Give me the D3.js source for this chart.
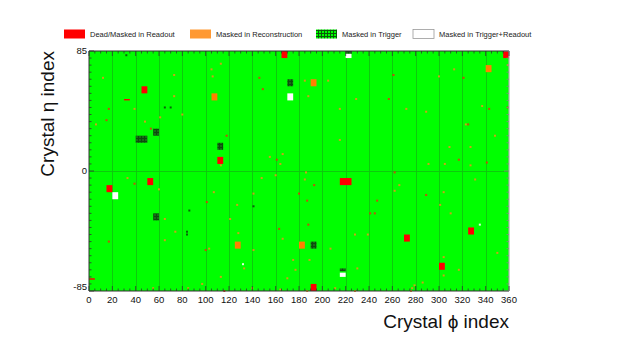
<!DOCTYPE html>
<html>
<head>
<meta charset="utf-8">
<script src="https://cdn.jsdelivr.net/npm/d3@7/dist/d3.min.js"></script>
<style>
  body { margin: 0; background: #fff; }
  svg { font-family: "Liberation Sans", Arial, sans-serif; }
</style>
</head>
<body>
<div id="chart"></div>
<script>
// legend entries
const legendLabels = ["Dead/Masked in Readout", "Masked in Reconstruction", "Masked in Trigger", "Masked in Trigger+Readout"];

// regions: [phiMin, phiMax, etaMin, etaMax]
const deadRegions = [
    [165, 170, 80, 85], [355, 360, 80, 85], [45, 50, 55, 60], [110, 115, 5, 10],
    [30, 35, 50, 51], [15, 20, -15, -10], [50, 55, -10, -5], [215, 225, -10, -5],
    [190, 195, -85, -80], [270, 275, -50, -45], [300, 305, -70, -65], [325, 330, -45, -40],
    [0, 5, -77, -76]
];
const recoRegions = [
    [105, 110, 50, 55], [190, 195, 60, 65], [340, 345, 70, 75],
    [125, 130, -55, -50], [180, 185, -55, -50]
];
const triggerRegions = [
    [170, 175, 60, 65], [40, 50, 20, 25], [55, 60, 25, 30], [110, 115, 15, 20],
    [55, 60, -35, -30], [190, 195, -55, -50], [220, 225, 83, 85], [215, 220, -71, -69]
];
const trigReadoutRegions = [
    [170, 175, 50, 55], [20, 25, -20, -15], [220, 225, 80, 83], [215, 220, -75, -72]
];

// single crystals: [phi, eta]
const deadCrystals = [
    [17, 44], [15, 36], [53, 30], [118, 25], [146, 66], [149, 58], [161, 8], [261, 68],
    [257, 51], [321, 66], [343, 44], [359, 45], [325, 33], [317, 8], [341, 6], [39, -9],
    [17, -50], [101, -22], [100, -56], [163, -41], [116, -85], [180, -16], [193, -10],
    [187, -21], [188, -38], [262, -1], [247, -21], [241, -30], [245, -30], [289, -17]
];
const recoCrystals = [
    [12, 66], [6, 33], [39, 44], [48, 35], [61, 38], [73, 68], [73, 53], [80, 40],
    [105, 72], [113, 76], [106, 67], [113, 4], [155, 10], [166, 12], [164, 5], [185, 64],
    [205, 64], [188, 53], [229, 51], [215, 44], [215, 22], [272, 44], [289, 42], [300, 67],
    [313, 72], [337, 46], [359, 75], [323, 33], [348, 25], [309, 17], [327, 17], [291, 5],
    [305, 5], [327, 4], [33, -5], [60, -13], [65, -34], [65, -49], [74, -43], [107, -15],
    [121, -34], [127, -24], [128, -44], [103, -55], [113, -75], [97, -80], [133, -69],
    [141, -56], [148, -5], [160, -3], [166, -48], [175, -63], [177, -70], [170, -76],
    [55, -83], [85, -83], [140, -83], [164, -84], [186, -1], [185, -6], [189, -63],
    [266, -10], [262, -14], [239, -45], [304, -15], [301, -24], [310, -30], [331, -6],
    [350, -58], [304, -61], [317, -70], [304, -74], [286, -79], [279, -81], [277, -83],
    [276, -85], [207, -55], [230, -69], [211, -83], [228, -85], [228, -45], [187, -85],
    [141, -16]
];
const triggerCrystals = [
    [32, 82], [65, 45], [70, 45], [84, -43], [84, -45], [86, -28], [141, -25]
];
const trigReadoutCrystals = [[132, -66], [335, -38]];

// axes
const phiTicks = d3.range(0, 361, 20);
const etaTicks = [-85, 0, 85];

const width = 624, height = 343;
const svg = d3.select("#chart").append("svg")
    .attr("width", width).attr("height", height);

const x = d3.scaleLinear().domain([0, 360]).range([89, 509]);
const y = d3.scaleLinear().domain([-85, 85]).range([291, 51]);

const defs = svg.append("defs");
function gridPattern(id, bg, line) {
    const p = defs.append("pattern").attr("id", id)
        .attr("patternUnits", "userSpaceOnUse").attr("width", 3).attr("height", 3);
    p.append("rect").attr("width", 3).attr("height", 3).attr("fill", bg);
    p.append("path").attr("d", "M0,0.5H3M0.5,0V3").attr("stroke", line).attr("stroke-width", 1);
}
gridPattern("trigPlot", "#176c17", "#0e4a0e");
gridPattern("trigLegend", "#00ff00", "#0a5a0a");

// plot background
svg.append("rect")
    .attr("x", x(0)).attr("y", y(85))
    .attr("width", x(360) - x(0)).attr("height", y(-85) - y(85))
    .attr("fill", "#00ff00");

// supermodule boundaries
const grid = svg.append("g").attr("stroke", "#0fc40f").attr("stroke-width", 0.9);
grid.selectAll("line.v").data(d3.range(20, 360, 20)).join("line")
    .attr("x1", d => Math.round(x(d)) + 0.5).attr("x2", d => Math.round(x(d)) + 0.5)
    .attr("y1", y(85)).attr("y2", y(-85));
grid.append("line")
    .attr("x1", x(0)).attr("x2", x(360))
    .attr("y1", Math.round(y(0)) + 0.5).attr("y2", Math.round(y(0)) + 0.5);

const layers = [
    { regions: recoRegions, crystals: recoCrystals, fill: "#ff8000", dot: "#f0901a" },
    { regions: deadRegions, crystals: deadCrystals, fill: "#ff0000", dot: "#e8300a" },
    { regions: triggerRegions, crystals: triggerCrystals, fill: "url(#trigPlot)", dot: "#0a4a0a" },
    { regions: trigReadoutRegions, crystals: trigReadoutCrystals, fill: "#ffffff", dot: "#ffffff" }
];

// single crystals are drawn at least 2px so they stay visible at this size
const dotW = Math.max(x(1) - x(0), 2), dotH = Math.max(y(0) - y(1), 2);

layers.forEach(l => {
    const g = svg.append("g");
    g.selectAll("rect.r").data(l.regions).join("rect")
        .attr("x", d => x(d[0])).attr("width", d => x(d[1]) - x(d[0]))
        .attr("y", d => y(d[3])).attr("height", d => y(d[2]) - y(d[3]))
        .attr("fill", l.fill);
    g.selectAll("rect.c").data(l.crystals).join("rect")
        .attr("x", d => x(d[0]) - dotW / 2).attr("width", dotW)
        .attr("y", d => y(d[1]) - dotH / 2).attr("height", dotH)
        .attr("fill", l.dot).attr("opacity", 0.85);
});

// frame
const frame = svg.append("g").attr("fill", "none");
frame.append("path")
    .attr("d", `M${x(360)},${y(85)}H${x(0)}V${y(-85)}H${x(360)}`)
    .attr("stroke", "#333").attr("stroke-width", 1);
frame.append("line")
    .attr("x1", x(360)).attr("x2", x(360)).attr("y1", y(85)).attr("y2", y(-85))
    .attr("stroke", "#aaa").attr("stroke-width", 1.2);

// ticks (inside the frame, ROOT style)
const ticks = svg.append("g").attr("stroke", "#333").attr("stroke-width", 0.8);
d3.range(0, 361, 5).forEach(p => {
    const len = p % 20 === 0 ? 5 : 2.5;
    ticks.append("line").attr("x1", x(p)).attr("x2", x(p))
        .attr("y1", y(-85)).attr("y2", y(-85) - len);
    ticks.append("line").attr("x1", x(p)).attr("x2", x(p))
        .attr("y1", y(85)).attr("y2", y(85) + len);
});
d3.range(-85, 86, 5).forEach(e => {
    const len = etaTicks.includes(e) ? 5 : 2.5;
    ticks.append("line").attr("x1", x(0)).attr("x2", x(0) + len)
        .attr("y1", y(e)).attr("y2", y(e));
    ticks.append("line").attr("x1", x(360)).attr("x2", x(360) - len)
        .attr("y1", y(e)).attr("y2", y(e)).attr("stroke", "#888");
});

// tick labels
svg.append("g").selectAll("text").data(phiTicks).join("text")
    .attr("x", d => x(d)).attr("y", 303)
    .attr("text-anchor", "middle").attr("font-size", 9.5).attr("fill", "#111")
    .text(d => d);
svg.append("g").selectAll("text").data(etaTicks).join("text")
    .attr("x", 87).attr("y", d => y(d) + (d === -85 ? -1 : 3))
    .attr("text-anchor", "end").attr("font-size", 9.5).attr("fill", "#111")
    .text(d => d);

// axis titles
svg.append("text")
    .attr("x", 509).attr("y", 328)
    .attr("text-anchor", "end").attr("font-size", 19).attr("fill", "#111")
    .text("Crystal \u03D5 index");
svg.append("text")
    .attr("transform", "translate(54,51) rotate(-90)")
    .attr("text-anchor", "end").attr("font-size", 19).attr("fill", "#111")
    .text("Crystal \u03B7 index");

// legend
const legendFills = ["#ff0000", "#ff9933", "url(#trigLegend)", "#ffffff"];
const legendX = [64, 190, 316, 413];
const leg = svg.append("g");
legendLabels.forEach((t, i) => {
    leg.append("rect")
        .attr("x", legendX[i]).attr("y", 29.5).attr("width", 21).attr("height", 9)
        .attr("fill", legendFills[i])
        .attr("stroke", i === 3 ? "#999" : "none").attr("stroke-width", 0.8);
    leg.append("text")
        .attr("x", legendX[i] + 26).attr("y", 37)
        .attr("font-size", 7.5).attr("fill", "#222")
        .text(t);
});
</script>
</body>
</html>
